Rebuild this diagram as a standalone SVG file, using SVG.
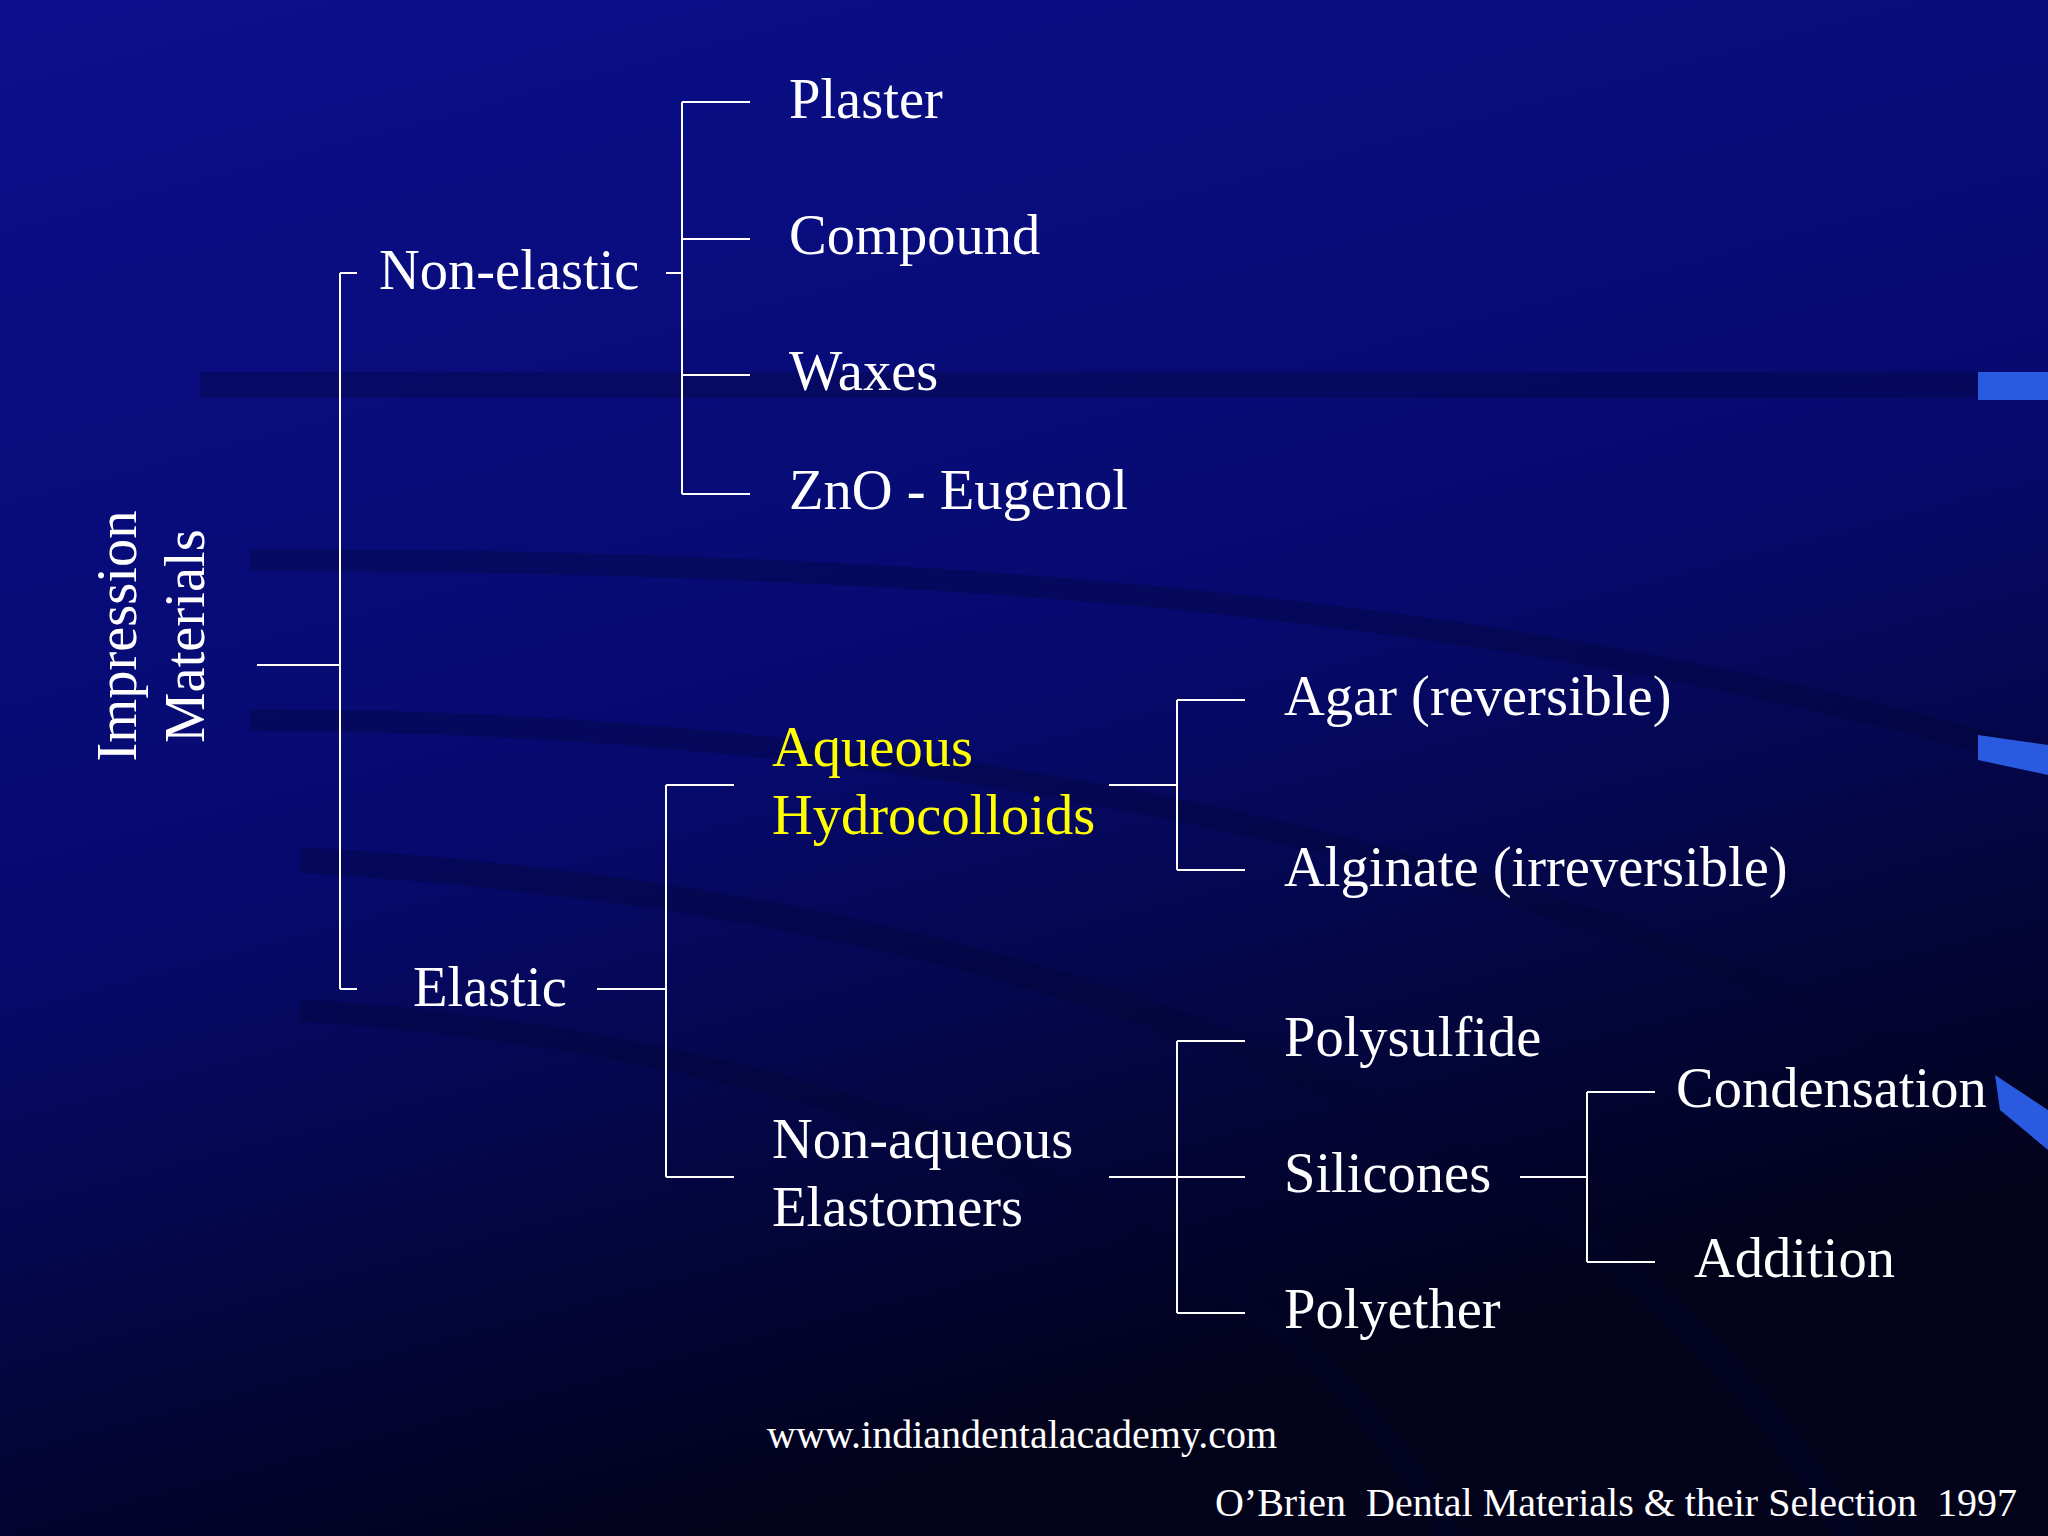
<svg xmlns="http://www.w3.org/2000/svg" width="2048" height="1536" viewBox="0 0 2048 1536">
<defs>
<linearGradient id="bg" x1="0" y1="0" x2="0.35" y2="1">
<stop offset="0" stop-color="#0b0f8c"/>
<stop offset="0.55" stop-color="#060a6e"/>
<stop offset="1" stop-color="#02021a"/>
</linearGradient>
<style>
.t{font-family:"Liberation Serif","Times New Roman",serif;font-size:56.5px;fill:#ffffff}
.y{fill:#ffff00}
.s{font-family:"Liberation Serif","Times New Roman",serif;font-size:40px;fill:#ffffff}
.c line{stroke:#ffffff;stroke-width:2}
.sw{fill:none;stroke:#020630;stroke-opacity:0.3}
</style>
</defs>
<rect width="2048" height="1536" fill="url(#bg)"/>
<g id="swooshes">
<path class="sw" stroke-width="26" d="M200 385 L2048 385"/>
<path class="sw" stroke-width="22" d="M250 560 C900 560 1500 600 2048 760"/>
<path class="sw" stroke-width="22" d="M250 720 C900 720 1600 850 2048 1130"/>
<path class="sw" stroke-width="26" d="M300 860 C1000 900 1600 1100 1850 1536"/>
<path class="sw" stroke-width="22" d="M300 1010 C900 1050 1300 1250 1450 1536"/>
<rect x="1978" y="372" width="70" height="28" fill="#2a5ae0"/>
<path d="M1978 735 L2048 745 L2048 775 L1978 760Z" fill="#2a5ae0"/>
<path d="M1995 1075 L2048 1110 L2048 1150 L2000 1110Z" fill="#2a5ae0"/>
</g>
<g id="connectors" class="c">
<line x1="257" y1="665" x2="340" y2="665"/>
<line x1="340" y1="273" x2="340" y2="989"/>
<line x1="340" y1="273" x2="357" y2="273"/>
<line x1="340" y1="989" x2="357" y2="989"/>
<line x1="666" y1="273" x2="682" y2="273"/>
<line x1="682" y1="102" x2="682" y2="494"/>
<line x1="682" y1="102" x2="750" y2="102"/>
<line x1="682" y1="239" x2="750" y2="239"/>
<line x1="682" y1="375" x2="750" y2="375"/>
<line x1="682" y1="494" x2="750" y2="494"/>
<line x1="597" y1="989" x2="666" y2="989"/>
<line x1="666" y1="785" x2="666" y2="1177"/>
<line x1="666" y1="785" x2="734" y2="785"/>
<line x1="666" y1="1177" x2="734" y2="1177"/>
<line x1="1109" y1="785" x2="1177" y2="785"/>
<line x1="1177" y1="700" x2="1177" y2="870"/>
<line x1="1177" y1="700" x2="1245" y2="700"/>
<line x1="1177" y1="870" x2="1245" y2="870"/>
<line x1="1109" y1="1177" x2="1177" y2="1177"/>
<line x1="1177" y1="1041" x2="1177" y2="1313"/>
<line x1="1177" y1="1041" x2="1245" y2="1041"/>
<line x1="1177" y1="1177" x2="1245" y2="1177"/>
<line x1="1177" y1="1313" x2="1245" y2="1313"/>
<line x1="1520" y1="1177" x2="1587" y2="1177"/>
<line x1="1587" y1="1092" x2="1587" y2="1262"/>
<line x1="1587" y1="1092" x2="1655" y2="1092"/>
<line x1="1587" y1="1262" x2="1655" y2="1262"/>
</g>
<g id="root"><text class="t" transform="translate(136 636) rotate(-90)" text-anchor="middle">Impression</text><text class="t" transform="translate(204 636) rotate(-90)" text-anchor="middle">Materials</text></g>
<g id="nonelastic"><text class="t" x="379" y="289">Non-elastic</text></g>
<g id="plaster"><text class="t" x="789" y="118">Plaster</text></g>
<g id="compound"><text class="t" x="789" y="254">Compound</text></g>
<g id="waxes"><text class="t" x="789" y="390">Waxes</text></g>
<g id="zno"><text class="t" x="789" y="509">ZnO - Eugenol</text></g>
<g id="elastic"><text class="t" x="413" y="1006">Elastic</text></g>
<g id="aqueous"><text class="t y" x="772" y="766">Aqueous</text><text class="t y" x="772" y="834">Hydrocolloids</text></g>
<g id="agar"><text class="t" x="1284" y="715">Agar (reversible)</text></g>
<g id="alginate"><text class="t" x="1284" y="886">Alginate (irreversible)</text></g>
<g id="nonaqueous"><text class="t" x="772" y="1158">Non-aqueous</text><text class="t" x="772" y="1226">Elastomers</text></g>
<g id="polysulfide"><text class="t" x="1284" y="1056">Polysulfide</text></g>
<g id="silicones"><text class="t" x="1284" y="1192">Silicones</text></g>
<g id="polyether"><text class="t" x="1284" y="1328">Polyether</text></g>
<g id="condensation"><text class="t" x="1676" y="1107">Condensation</text></g>
<g id="addition"><text class="t" x="1694" y="1277">Addition</text></g>
<text class="s" x="767" y="1448">www.indiandentalacademy.com</text>
<text class="s" x="2017" y="1516" text-anchor="end" xml:space="preserve">O’Brien  Dental Materials &amp; their Selection  1997</text>
</svg>
